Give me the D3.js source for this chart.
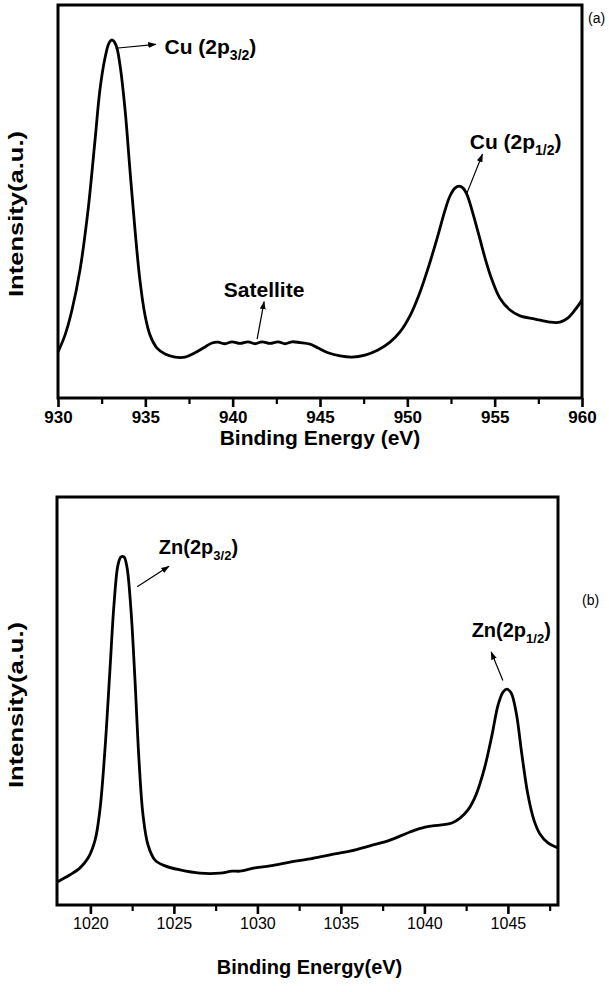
<!DOCTYPE html>
<html><head><meta charset="utf-8">
<script src="https://cdn.jsdelivr.net/npm/d3@7"></script>
<style>
html,body{margin:0;padding:0;background:#fff;}
svg{display:block;}
text{font-family:"Liberation Sans",Arial,sans-serif;fill:#000;}
</style></head>
<body>
<svg id="chart" width="609" height="992"></svg>
<script>
// Panel (a): Cu 2p spectrum
const cuEnergy = [930.00,930.40,930.80,931.26,931.72,932.12,932.40,932.69,932.92,933.09,933.32,933.55,933.84,934.12,934.41,934.69,934.98,935.27,935.67,936.13,936.70,937.27,937.84,938.42,938.82,939.16,939.56,939.96,940.42,940.88,941.28,941.68,942.14,942.60,943.00,943.40,943.86,944.43,944.89,945.46,946.15,946.83,947.58,948.32,949.01,949.58,950.15,950.73,951.30,951.76,952.16,952.44,952.73,952.96,953.19,953.42,953.70,954.05,954.45,954.85,955.30,955.88,956.45,957.31,958.17,958.74,959.20,959.60,960.00];
const cuIntensity = [11.7,16.0,22.4,32.6,47.8,65.6,78.4,86.5,90.3,91.1,89.8,84.7,73.3,58.0,42.7,30.0,21.1,16.0,12.7,11.2,10.4,10.4,11.5,13.0,14.0,14.2,13.8,14.3,13.9,14.3,13.8,14.3,13.9,14.3,13.8,14.3,14.1,13.7,12.7,11.5,10.7,10.4,10.9,12.2,14.2,16.8,20.9,27.0,34.6,41.5,47.8,51.4,53.4,53.9,53.4,51.7,47.8,42.2,35.6,30.0,25.4,22.4,20.9,20.1,19.3,19.3,20.4,22.4,24.9];
const cuTicks = [930,935,940,945,950,955,960];

// Panel (b): Zn 2p spectrum
const znEnergy = [1018.00,1018.78,1019.38,1019.86,1020.28,1020.57,1020.87,1021.17,1021.41,1021.65,1021.83,1022.01,1022.19,1022.43,1022.67,1022.91,1023.15,1023.45,1023.87,1024.47,1025.37,1026.56,1027.76,1028.48,1028.96,1029.86,1030.75,1031.95,1033.15,1034.35,1035.54,1036.74,1037.94,1039.14,1040.04,1040.93,1041.65,1042.13,1042.61,1043.09,1043.57,1044.05,1044.41,1044.71,1044.95,1045.19,1045.49,1045.84,1046.20,1046.56,1046.92,1047.40,1048.00];
const znIntensity = [5.6,7.4,9.1,11.5,15.9,23.3,38.0,57.6,73.5,83.3,85.3,85.3,82.8,72.3,55.1,35.5,22.1,14.7,11.0,9.6,8.6,7.8,7.8,8.3,8.3,9.1,9.6,10.5,11.3,12.3,13.2,14.5,15.9,17.9,19.1,19.6,20.1,21.3,23.3,27.0,33.1,41.7,49.0,52.2,52.9,52.0,47.3,36.8,27.0,20.8,17.4,15.2,14.0];
const znTicks = [1020,1025,1030,1035,1040,1045];

const svg = d3.select("#chart");
const defs = svg.append("defs");
defs.append("marker").attr("id","ah").attr("viewBox","0 0 10 10").attr("refX",9).attr("refY",5)
  .attr("markerWidth",7).attr("markerHeight",7).attr("orient","auto")
  .append("path").attr("d","M0,1.5L10,5L0,8.5Z").attr("fill","#000");

function panel(cfg){
  const g = svg.append("g");
  const x = d3.scaleLinear().domain(cfg.domain).range([cfg.left, cfg.right]);
  const y = d3.scaleLinear().domain([0,100]).range([cfg.bottom, cfg.top]);
  const minor = [];
  for(let v = cfg.minorStart; v <= cfg.domain[1]+1e-9; v += 5) minor.push(v);
  g.append("g").attr("transform",`translate(0,${cfg.bottom})`)
    .call(d3.axisBottom(x).tickValues(minor).tickSize(6).tickFormat(""))
    .call(s=>{s.select(".domain").remove(); s.selectAll("line").attr("stroke-width",2.2);});
  const ax = g.append("g").attr("transform",`translate(0,${cfg.bottom})`)
    .call(d3.axisBottom(x).tickValues(cfg.ticks).tickSize(9).tickPadding(4).tickFormat(d3.format("d")));
  ax.select(".domain").remove();
  ax.selectAll("line").attr("stroke-width",2.6);
  ax.selectAll("text").attr("font-size",cfg.tickSize).attr("font-weight",cfg.tickWeight).attr("fill","#000")
    .style("font-family","'Liberation Sans',Arial,sans-serif");
  g.append("rect").attr("x",cfg.left).attr("y",cfg.top).attr("width",cfg.right-cfg.left).attr("height",cfg.bottom-cfg.top)
    .attr("fill","none").attr("stroke","#000").attr("stroke-width",3);
  const line = d3.line().x(d=>x(d[0])).y(d=>y(d[1])).curve(d3.curveCatmullRom.alpha(0.5));
  g.append("path").datum(cfg.e.map((v,i)=>[v,cfg.i[i]])).attr("d",line)
    .attr("fill","none").attr("stroke","#000").attr("stroke-width",2.8).attr("stroke-linejoin","round");
  g.append("text").attr("x",(cfg.left+cfg.right)/2 + cfg.xtOff).attr("y",cfg.xtY).attr("text-anchor","middle")
    .attr("font-size",cfg.xtSize).attr("font-weight","bold").text(cfg.xTitle);
  g.append("text").attr("transform",`translate(${cfg.ytX},${cfg.ytY}) rotate(-90)`).attr("text-anchor","middle")
    .attr("font-size",21).attr("font-weight","bold")
    .attr("textLength",166).attr("lengthAdjust","spacingAndGlyphs").text("Intensity(a.u.)");
  return {x,y,g};
}

const A = panel({domain:[930,960], left:58, right:582, top:5, bottom:398, ticks:cuTicks, minorStart:932.5,
  e:cuEnergy, i:cuIntensity, tickSize:17, tickWeight:"bold", xTitle:"Binding Energy (eV)", xtY:445, xtOff:0, xtSize:21,
  ytX:23, ytY:214});
const B = panel({domain:[1018,1048], left:57, right:558, top:497, bottom:905, ticks:znTicks, minorStart:1022.5,
  e:znEnergy, i:znIntensity, tickSize:16, tickWeight:"normal", xTitle:"Binding Energy(eV)", xtY:974, xtOff:2, xtSize:20,
  ytX:23, ytY:705});

function arrow(g,x1,y1,x2,y2){
  g.append("line").attr("x1",x1).attr("y1",y1).attr("x2",x2).attr("y2",y2)
   .attr("stroke","#000").attr("stroke-width",1.2).attr("marker-end","url(#ah)");
}
function label(g,x,y,main,sub,close,anchor,fs){
  fs = fs || 21;
  const t = g.append("text").attr("x",x).attr("y",y).attr("font-size",fs).attr("font-weight","bold")
    .attr("text-anchor",anchor||"start");
  t.append("tspan").text(main);
  if(sub){
    t.append("tspan").attr("font-size",Math.round(fs*0.66)).attr("dy",6).text(sub);
    t.append("tspan").attr("dy",-6).text(close);
  }
  return t;
}
// panel a annotations
arrow(A.g, A.x(933.3), A.y(89), A.x(935.6), A.y(90));
label(A.g, A.x(936.1), 54, "Cu (2p", "3/2", ")");
arrow(A.g, A.x(941.4), A.y(15), A.x(941.8), A.y(24.5));
label(A.g, A.x(941.8), 297, "Satellite", null, null, "middle");
arrow(A.g, A.x(953.4), A.y(52), A.x(954.3), A.y(62));
label(A.g, A.x(956.2), 149, "Cu (2p", "1/2", ")", "middle");
A.g.append("text").attr("x",588).attr("y",23).attr("font-size",14).text("(a)");

// panel b annotations
arrow(B.g, B.x(1022.8), B.y(78), B.x(1024.7), B.y(83));
label(B.g, B.x(1024.1), 554, "Zn(2p", "3/2", ")", "start", 20);
arrow(B.g, B.x(1044.7), B.y(55), B.x(1044.0), B.y(62));
label(B.g, B.x(1045.2), 637, "Zn(2p", "1/2", ")", "middle", 20);
B.g.append("text").attr("x",582).attr("y",605).attr("font-size",14).text("(b)");
</script>
</body></html>
